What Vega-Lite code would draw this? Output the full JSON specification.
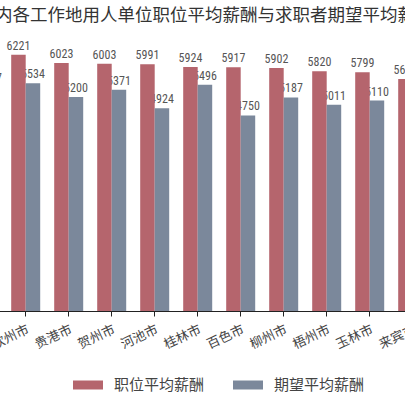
{
  "$schema": "https://vega.github.io/schema/vega-lite/v6.json",
  "width": 405,
  "height": 280,
  "autosize": {"type": "none"},
  "padding": {"top": 31, "left": 0, "right": 0, "bottom": 94},
  "background": "white",
  "title": {
    "text": "内各工作地用人单位职位平均薪酬与求职者期望平均薪酬",
    "anchor": "start",
    "frame": "group",
    "dx": -5,
    "offset": -7,
    "baseline": "alphabetic",
    "fontSize": 17.5,
    "font": "Noto Sans CJK SC",
    "fontWeight": "normal",
    "color": "#333333"
  },
  "data": {
    "values": [
      {"city": "防城港市", "series": "职位平均薪酬", "value": 6300},
      {"city": "防城港市", "series": "期望平均薪酬", "value": 5437},
      {"city": "钦州市", "series": "职位平均薪酬", "value": 6221},
      {"city": "钦州市", "series": "期望平均薪酬", "value": 5534},
      {"city": "贵港市", "series": "职位平均薪酬", "value": 6023},
      {"city": "贵港市", "series": "期望平均薪酬", "value": 5200},
      {"city": "贺州市", "series": "职位平均薪酬", "value": 6003},
      {"city": "贺州市", "series": "期望平均薪酬", "value": 5371},
      {"city": "河池市", "series": "职位平均薪酬", "value": 5991},
      {"city": "河池市", "series": "期望平均薪酬", "value": 4924},
      {"city": "桂林市", "series": "职位平均薪酬", "value": 5924},
      {"city": "桂林市", "series": "期望平均薪酬", "value": 5496},
      {"city": "百色市", "series": "职位平均薪酬", "value": 5917},
      {"city": "百色市", "series": "期望平均薪酬", "value": 4750},
      {"city": "柳州市", "series": "职位平均薪酬", "value": 5902},
      {"city": "柳州市", "series": "期望平均薪酬", "value": 5187},
      {"city": "梧州市", "series": "职位平均薪酬", "value": 5820},
      {"city": "梧州市", "series": "期望平均薪酬", "value": 5011},
      {"city": "玉林市", "series": "职位平均薪酬", "value": 5799},
      {"city": "玉林市", "series": "期望平均薪酬", "value": 5110},
      {"city": "来宾市", "series": "职位平均薪酬", "value": 5632},
      {"city": "来宾市", "series": "期望平均薪酬", "value": 5000}
    ]
  },
  "encoding": {
    "x": {
      "field": "city",
      "type": "nominal",
      "sort": ["防城港市", "钦州市", "贵港市", "贺州市", "河池市", "桂林市", "百色市", "柳州市", "梧州市", "玉林市", "来宾市"],
      "scale": {"range": [-38.8, 434.2], "paddingInner": 0.3256, "paddingOuter": 0.1628},
      "axis": {
        "title": null,
        "grid": false,
        "labelAngle": -25,
        "labelFontSize": 13,
        "labelFont": "Noto Sans CJK SC",
        "labelColor": "#444444",
        "labelOverlap": false,
        "labelPadding": 7,
        "tickSize": 5,
        "tickColor": "#222222",
        "domainColor": "#222222"
      }
    },
    "xOffset": {
      "field": "series",
      "type": "nominal",
      "sort": ["职位平均薪酬", "期望平均薪酬"],
      "scale": {"paddingInner": 0, "paddingOuter": 0}
    },
    "y": {
      "field": "value",
      "type": "quantitative",
      "scale": {"domain": [0, 6800]},
      "axis": null
    }
  },
  "layer": [
    {
      "mark": {
        "type": "text",
        "baseline": "bottom",
        "dy": -2,
        "fontSize": 12,
        "font": "Liberation Sans Narrow, Roboto Condensed, Liberation Sans",
        "color": "#555555"
      },
      "encoding": {"text": {"field": "value", "type": "quantitative"}}
    },
    {
      "mark": {"type": "bar"},
      "encoding": {
        "color": {
          "field": "series",
          "type": "nominal",
          "sort": ["职位平均薪酬", "期望平均薪酬"],
          "scale": {"domain": ["职位平均薪酬", "期望平均薪酬"], "range": ["#b5656d", "#7b889b"]},
          "legend": {
            "title": null,
            "orient": "none",
            "legendX": 73,
            "legendY": 339,
            "direction": "horizontal",
            "symbolType": "M-1,-0.3H1V0.3H-1Z",
            "symbolSize": 900,
            "symbolStrokeWidth": 0,
            "labelFontSize": 15,
            "labelFont": "Noto Sans CJK SC",
            "labelColor": "#444444",
            "labelOffset": 11,
            "columnPadding": 28
          }
        }
      }
    }
  ],
  "config": {"view": {"stroke": null}}
}
